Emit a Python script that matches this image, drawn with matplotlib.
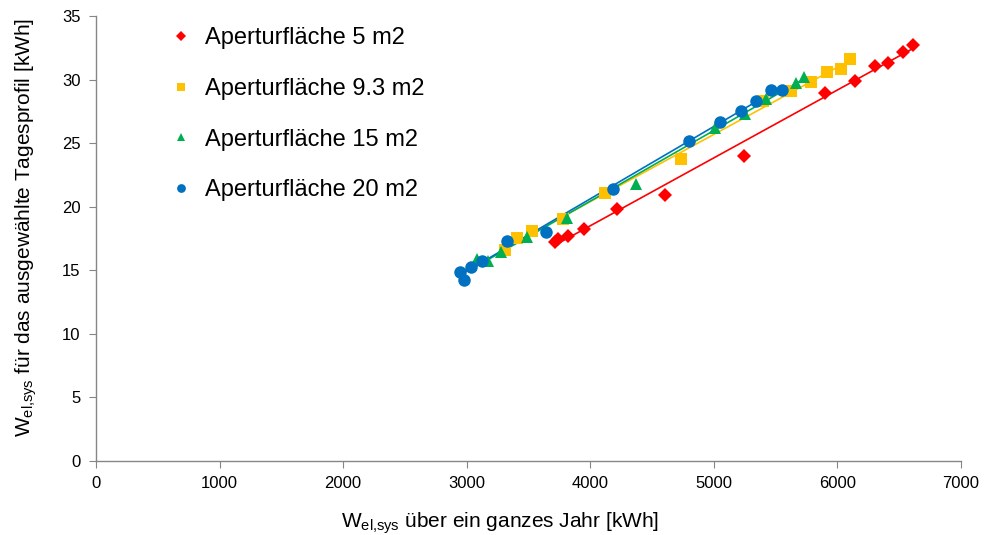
import numpy as np
import matplotlib
matplotlib.use('Agg')
import matplotlib.pyplot as plt

plt.rcParams['font.family'] = ['Liberation Sans', 'DejaVu Sans']
plt.rcParams['mathtext.fontset'] = 'custom'
plt.rcParams['mathtext.rm'] = 'Liberation Sans'
plt.rcParams['mathtext.it'] = 'Liberation Sans'

# Aperturflaeche 5 m2
x5 = [3714, 3738, 3819, 3948, 4215, 4604, 5240, 5898, 6141, 6303, 6410, 6532, 6613]
y5 = [17.25, 17.47, 17.73, 18.23, 19.80, 20.95, 24.02, 28.93, 29.92, 31.08, 31.34, 32.15, 32.68]
# Aperturflaeche 9.3 m2
x93 = [3309, 3409, 3528, 3781, 4118, 4733, 5394, 5628, 5790, 5917, 6028, 6100]
y93 = [16.6, 17.52, 18.1, 19.01, 21.11, 23.74, 28.32, 29.1, 29.79, 30.58, 30.8, 31.6]
# Aperturflaeche 15 m2
x15 = [3085, 3169, 3277, 3485, 3808, 4369, 5008, 5251, 5418, 5661, 5731]
y15 = [15.9, 15.76, 16.42, 17.6, 19.1, 21.79, 26.18, 27.28, 28.46, 29.76, 30.24]
# Aperturflaeche 20 m2
x20 = [2945, 2977, 3031, 3120, 3323, 3641, 4180, 4800, 5049, 5216, 5340, 5461, 5548]
y20 = [14.89, 14.24, 15.29, 15.76, 17.33, 18.02, 21.37, 25.2, 26.65, 27.56, 28.35, 29.19, 29.19]

labels = ['Aperturfläche 5 m2', 'Aperturfläche 9.3 m2', 'Aperturfläche 15 m2', 'Aperturfläche 20 m2']
series = [(x5, y5), (x93, y93), (x15, y15), (x20, y20)]
colors = ['#FF0000', '#FFC000', '#00B050', '#0070C0']
markers = ['D', 's', '^', 'o']
msizes = [7, 9, 9, 9]

fig = plt.figure(figsize=(9.88, 5.35), dpi=100)
ax = fig.add_axes([96/988, 74/535, 865/988, 445/535])

# trend lines first, markers on top
for (xs, ys), c in zip(series, colors):
    xs = np.array(xs); ys = np.array(ys)
    k, d = np.polyfit(xs, ys, 1)
    xl = np.array([xs.min(), xs.max()])
    ax.plot(xl, k*xl + d, color=c, lw=1.2, zorder=2)

handles = []
for (xs, ys), c, m, ms, lab in zip(series, colors, markers, msizes, labels):
    h, = ax.plot(xs, ys, linestyle='none', marker=m, color=c, markersize=ms,
                 markeredgewidth=0, label=lab, zorder=3)
    handles.append(h)

ax.set_xlim(0, 7000)
ax.set_ylim(0, 35)
ax.set_xticks(np.arange(0, 7001, 1000))
ax.set_yticks(np.arange(0, 36, 5))
for s in ['top', 'right']:
    ax.spines[s].set_visible(False)
for s in ['left', 'bottom']:
    ax.spines[s].set_color('#868686')
    ax.spines[s].set_linewidth(1.0)
ax.tick_params(axis='both', direction='out', length=5, color='#868686',
               labelsize=12, labelcolor='black', pad=6)

ax.set_xlabel(r'W$_{\mathrm{el{,}sys}}$ über ein ganzes Jahr [kWh]', fontsize=15)
ax.set_ylabel(r'W$_{\mathrm{el{,}sys}}$ für das ausgewählte Tagesprofil [kWh]', fontsize=15)
ax.xaxis.set_label_coords(0.467, -0.112)
ax.yaxis.set_label_coords(-0.066, 0.525)

leg = ax.legend(handles=handles, loc='upper left', bbox_to_anchor=(0.063, 1.022),
                frameon=False, fontsize=17, markerscale=0.7, handlelength=0.8,
                handletextpad=0.6, labelspacing=1.21)

fig.savefig('out.png', dpi=100)
